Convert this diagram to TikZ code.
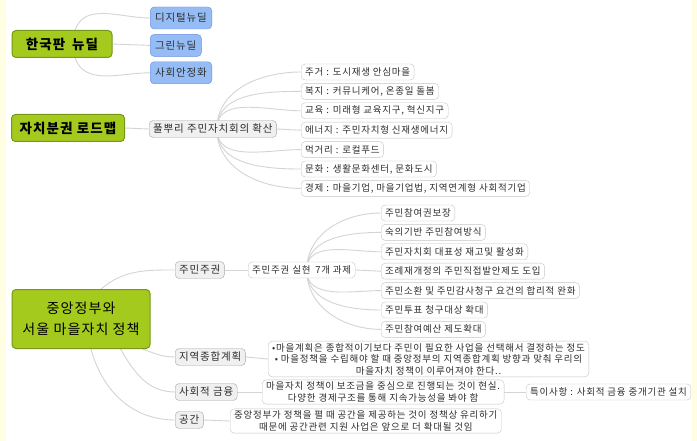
\documentclass[tikz,border=0pt]{standalone}
\usepackage{fontspec}
\setmainfont[LetterSpace=8.0, WordSpace=1.0]{Noto Sans CJK KR}
\usepackage{xcolor}
\usepackage{tikz}
\usetikzlibrary{positioning}
\definecolor{rootgreen}{RGB}{164, 202, 30}
\definecolor{rootedge}{RGB}{118, 152, 22}
\definecolor{topicblue}{RGB}{150, 188, 246}
\definecolor{topicedge}{RGB}{102, 142, 222}
\definecolor{linkgray}{RGB}{212, 212, 212}
\definecolor{paleyellow}{RGB}{255, 253, 226}
\definecolor{inkgray}{RGB}{45, 45, 45}
\pgfdeclarelayer{paper}
\pgfdeclarelayer{links}
\pgfsetlayers{paper,links,main}

\begin{document}
\begin{tikzpicture}[
  x=1pt, y=1pt,
  root/.style={rectangle, rounded corners=4pt, draw=rootedge, fill=rootgreen,
               line width=1pt, inner xsep=6pt, minimum height=27pt,
               text=black, font=\fontsize{13.5}{20}\selectfont\bfseries},
  topic/.style={rectangle, rounded corners=4pt, draw=topicedge, fill=topicblue,
                inner xsep=5pt, minimum height=22pt, text=inkgray,
                font=\fontsize{10.5}{12}\selectfont},
  branch/.style={rectangle, rounded corners=4pt, draw=gray!70, fill=gray!12,
                 inner xsep=4pt, minimum height=17pt, text=inkgray,
                 font=\fontsize{10.5}{12}\selectfont},
  leaf/.style={rectangle, rounded corners=4pt, draw=gray!45, fill=white,
               inner xsep=4pt, inner ysep=2pt, minimum height=16pt, text=inkgray,
               font=\fontsize{9.5}{11.5}\selectfont},
  link/.style={draw=linkgray, line width=0.9pt}
]
\useasboundingbox (0,0) rectangle (697,-441);
\begin{pgfonlayer}{paper}
  \fill[paleyellow] (0,0) rectangle (697,-441);
  \fill[white] (6,0) rectangle (692,-441);
\end{pgfonlayer}

\node[root, minimum width=100pt] (newdeal) at (62,-44) {한국판\enspace 뉴딜};
\node[topic, anchor=west] (digital) at (150,-18) {디지털뉴딜};
\node[topic, below=5pt of digital.south west, anchor=north west] (greendeal) {그린뉴딜};
\node[topic, below=5pt of greendeal.south west, anchor=north west] (safety) {사회안정화};

\node[root, minimum width=113pt] (roadmap) at (68,-128) {자치분권 로드맵};
\node[branch, anchor=west] (grassroot) at (149,-129) {풀뿌리 주민자치회의 확산};
\node[leaf, anchor=west] (housing) at (301,-72) {주거 : 도시재생 안심마을};
\node[leaf, below=3pt of housing.south west, anchor=north west] (welfare) {복지 : 커뮤니케어, 온종일 돌봄};
\node[leaf, below=3pt of welfare.south west, anchor=north west] (school) {교육 : 미래형 교육지구, 혁신지구};
\node[leaf, below=3pt of school.south west, anchor=north west] (energy) {에너지 : 주민자치형 신재생에너지};
\node[leaf, below=3pt of energy.south west, anchor=north west] (food) {먹거리 : 로컬푸드};
\node[leaf, below=3pt of food.south west, anchor=north west] (culture) {문화 : 생활문화센터, 문화도시};
\node[leaf, below=3pt of culture.south west, anchor=north west] (economy) {경제 : 마을기업, 마을기업법, 지역연계형 사회적기업};

\node[root, minimum width=138pt, minimum height=59pt, align=center,
      font=\fontsize{14}{21}\selectfont] (seoul) at (81,-319) {중앙정부와\\서울 마을자치 정책};
\node[branch, anchor=west] (sovereign) at (175,-270) {주민주권};
\node[leaf, anchor=west] (seventask) at (248,-270) {주민주권 실현\enspace 7개 과제};
\node[leaf, anchor=west] (task1) at (381,-213) {주민참여권보장};
\node[leaf, below=3pt of task1.south west, anchor=north west] (task2) {숙의기반 주민참여방식};
\node[leaf, below=3pt of task2.south west, anchor=north west] (task3) {주민자치회 대표성 재고및 활성화};
\node[leaf, below=3pt of task3.south west, anchor=north west] (task4) {조례재개정의 주민직접발안제도 도입};
\node[leaf, below=3pt of task4.south west, anchor=north west] (task5) {주민소환 및 주민감사청구 요건의 합리적 완화};
\node[leaf, below=3pt of task5.south west, anchor=north west] (task6) {주민투표 청구대상 확대};
\node[leaf, below=3pt of task6.south west, anchor=north west] (task7) {주민참여예산 제도확대};

\node[branch, anchor=west] (localplan) at (175,-357) {지역종합계획};
\node[leaf, anchor=west, align=center] (plannote) at (268,-359)
  {•마을계획은 종합적이기보다 주민이 필요한 사업을 선택해서 결정하는 정도\\
   • 마을정책을 수립해야 할 때 중앙정부의 지역종합계획 방향과 맞춰 우리의\\
   마을자치 정책이 이루어져야 한다..};
\node[branch, anchor=west] (finance) at (175,-392) {사회적 금융};
\node[leaf, anchor=west, align=center] (financenote) at (262,-392)
  {마을자치 정책이 보조금을 중심으로 진행되는 것이 현실.\\
   다양한 경제구조를 통해 지속가능성을 봐야 함};
\node[leaf, anchor=west] (remark) at (526,-392) {특이사항 : 사회적 금융 중개기관 설치};
\node[branch, anchor=west] (space) at (175,-420) {공간};
\node[leaf, anchor=west, align=center] (spacenote) at (230,-421)
  {중앙정부가 정책을 펼 때 공간을 제공하는 것이 정책상 유리하기\\
   때문에 공간관련 지원 사업은 앞으로 더 확대될 것임};

\begin{pgfonlayer}{links}
  \draw[link] ([xshift=13pt]newdeal.north) to[out=70, in=180] (digital.west);
  \draw[link] (newdeal.east) -- (greendeal.west);
  \draw[link] ([xshift=13pt]newdeal.south) to[out=-70, in=180] (safety.west);

  \draw[link] (roadmap.east) -- (grassroot.west);
  \foreach \item in {housing, welfare, school}
    \draw[link] ([xshift=4pt]grassroot.center) to[out=90, in=180] (\item.west);
  \draw[link] (grassroot.east) -- (energy.west);
  \foreach \item in {food, culture, economy}
    \draw[link] ([xshift=4pt]grassroot.center) to[out=-90, in=180] (\item.west);

  \draw[link] ([xshift=20pt]seoul.north) to[out=40, in=180] (sovereign.west);
  \draw[link] ([xshift=-8pt]seoul.south east) to[out=-20, in=180] (localplan.west);
  \draw[link] ([xshift=-30pt]seoul.south east) to[out=-60, in=180] (finance.west);
  \draw[link] ([xshift=10pt]seoul.south) to[out=-75, in=180] (space.west);

  \draw[link] (sovereign.east) -- (seventask.west);
  \foreach \item in {task1, task2, task3}
    \draw[link] ([xshift=5pt]seventask.center) to[out=90, in=180] (\item.west);
  \draw[link] (seventask.east) -- (task4.west);
  \foreach \item in {task5, task6, task7}
    \draw[link] ([xshift=5pt]seventask.center) to[out=-90, in=180] (\item.west);

  \draw[link] (localplan.east) -- (plannote.west);
  \draw[link] (finance.east) -- (financenote.west);
  \draw[link] (financenote.east) -- (remark.west);
  \draw[link] (space.east) -- (spacenote.west);
\end{pgfonlayer}
\end{tikzpicture}
\end{document}
